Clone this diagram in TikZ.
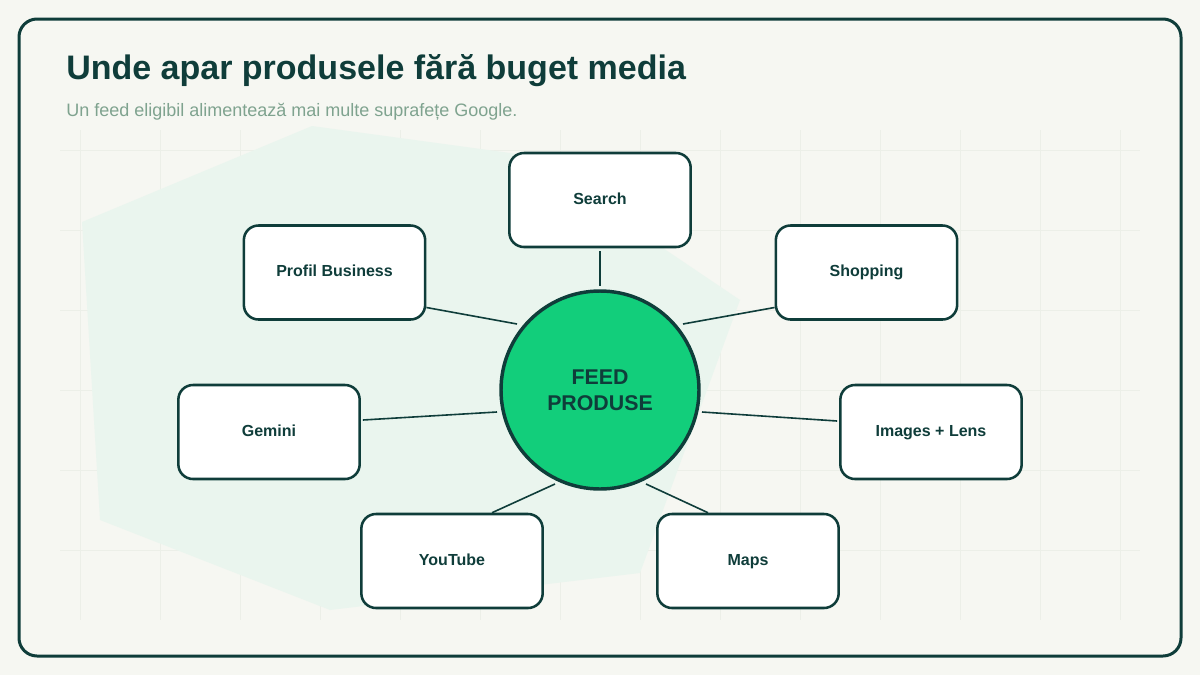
\documentclass[tikz,border=0pt]{standalone}
\usepackage{fontspec}
\setmainfont{Liberation Sans}
\usetikzlibrary{calc}
\definecolor{pagebg}{HTML}{F6F7F2}
\definecolor{gridc}{HTML}{ECEFE8}
\definecolor{hexc}{HTML}{EAF5EE}
\definecolor{dark}{HTML}{0F3D3A}
\definecolor{feedgreen}{HTML}{12CE7B}
\definecolor{subc}{HTML}{7FA38F}
\tikzset{
  surface/.style={rectangle, rounded corners=11pt, draw=dark, line width=1.9pt, fill=white,
    minimum width=136pt, minimum height=70.5pt, inner sep=0pt, text=dark,
    text height=9.5pt, text depth=3pt,
    font=\bfseries\fontsize{12}{14}\selectfont},
  hub/.style={circle, draw=dark, line width=2.6pt, fill=feedgreen, minimum size=148.5pt,
    inner sep=0pt, align=center, text=dark, font=\bfseries\fontsize{16}{19.5}\selectfont},
  link/.style={draw=dark, line width=1.2pt},
  linkthick/.style={draw=dark, line width=2.1pt},
  gridline/.style={draw=gridc, line width=0.75pt}
}
\begin{document}
\begin{tikzpicture}[x=0.75pt,y=-0.75pt]
\useasboundingbox (0,0) rectangle (1200,675);
\fill[pagebg] (0,0) rectangle (1200,675);
% grid
\foreach \x in {80,160,...,1120} \draw[gridline] (\x,130) -- (\x,620);
\foreach \y in {150,230,...,550} \draw[gridline] (60,\y) -- (1140,\y);
% background polygon
\fill[hexc] (312,126) -- (525,155) -- (740,300) -- (640,573) -- (330,610) -- (100,520) -- (82,222) -- cycle;
% frame
\draw[dark, line width=2.25pt, rounded corners=13.5pt] (19,19) rectangle (1181,656);
% titles
\node[anchor=base west, inner sep=0pt, text=dark, font=\bfseries\fontsize{25.5}{30}\selectfont] (title) at (66,79) {Unde apar produsele fără buget media};
\node[anchor=base west, inner sep=0pt, text=subc, font=\fontsize{13.5}{16}\selectfont] (subtitle) at (66,116) {Un feed eligibil alimentează mai multe suprafețe Google.};
% nodes
\node[hub] (feed) at (600,390) {FEED\\PRODUSE};
\node[surface] (se) at (600,200) {Search};
\node[surface] (pb) at (334.5,272.5) {Profil Business};
\node[surface] (sh) at (866.5,272.5) {Shopping};
\node[surface] (ge) at (269,432) {Gemini};
\node[surface] (il) at (931,432) {Images + Lens};
\node[surface] (yt) at (452,561) {YouTube};
\node[surface] (mp) at (748,561) {Maps};
% connectors
\draw[linkthick] ($(se.south)+(0,3)$) -- ($(feed.center)+(0,-104)$);
\draw[link] ($(pb.east)+(0,35)$) -- ($(feed.center)+(-83,-66)$);
\draw[link] ($(sh.west)+(0,35)$) -- ($(feed.center)+(83,-66)$);
\draw[link] ($(ge.east)+(2,-12)$) -- ($(feed.center)+(-103,22)$);
\draw[link] ($(il.west)+(-2,-11)$) -- ($(feed.center)+(102,22)$);
\draw[link] ($(yt.north)+(40,0)$) -- ($(feed.center)+(-45,94)$);
\draw[link] ($(mp.north)+(-40,0)$) -- ($(feed.center)+(46,94)$);
\end{tikzpicture}
\end{document}
